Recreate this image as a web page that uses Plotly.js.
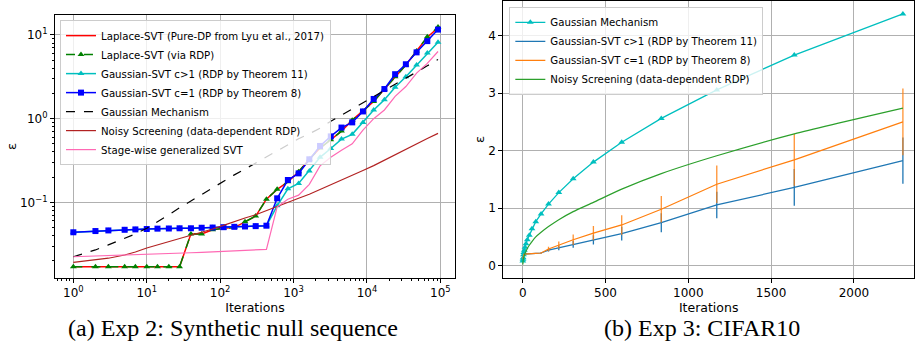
<!DOCTYPE html>
<html>
<head>
<meta charset="utf-8">
<script src="https://cdn.plot.ly/plotly-3.0.1.min.js"></script>
<style>html,body{margin:0;padding:0;background:#fff;}#chart{width:915px;height:354px;}</style>
</head>
<body>
<div id="chart"></div>
<script>
// ---------- Exp 2 (left, log-log) ----------
const iterationsA = [1,2,3,5,7,10,14,20,28,40,56,79,111,156,218,305,427,598,837,1172,1640,2296,3214,4500,6300,8820,12348,17287,24201,33882,47435,66409,92972];
const laplacePure = [0.017,0.017,0.017,0.017,0.017,0.017,0.017,0.017,0.017,0.042,0.042,0.047,0.049,0.050,0.0587,0.0686,0.109,0.143,0.176,0.232,0.327,0.445,0.56,0.71,0.96,1.23,1.6,2.26,3.16,4.37,6.43,9.4,12.2];
const laplaceRdp = [0.017,0.017,0.017,0.017,0.017,0.017,0.017,0.017,0.017,0.042,0.042,0.047,0.049,0.050,0.0587,0.0686,0.109,0.143,0.176,0.232,0.327,0.445,0.56,0.71,0.96,1.23,1.6,2.26,3.16,4.37,6.43,9.5,12.5];
const gsvtCgt1A = [0.0439,0.0454,0.0462,0.047,0.0475,0.048,0.0485,0.0487,0.049,0.049,0.0497,0.050,0.0505,0.051,0.0515,0.052,0.0526,0.091,0.145,0.168,0.237,0.345,0.44,0.57,0.65,0.90,1.27,1.68,2.38,3.17,4.37,6.1,8.2];
const gsvtC1A = [0.0439,0.0454,0.0462,0.047,0.0475,0.048,0.0485,0.0487,0.049,0.049,0.0497,0.050,0.0505,0.051,0.0515,0.052,0.0526,0.1117,0.185,0.222,0.327,0.472,0.614,0.783,0.903,1.22,1.72,2.26,3.4,4.47,6.2,8.45,11.6];
const gaussMechA = [0.0224,0.027,0.031,0.037,0.042,0.049,0.058,0.071,0.086,0.104,0.125,0.151,0.18,0.213,0.25,0.295,0.35,0.41,0.485,0.575,0.66,0.77,0.93,1.10,1.31,1.56,1.84,2.18,2.58,3.05,3.62,4.28,5.1];
const noisyScreenA = [0.0192,0.0205,0.0215,0.0235,0.0255,0.0285,0.031,0.034,0.037,0.040,0.044,0.048,0.053,0.059,0.065,0.071,0.080,0.090,0.10,0.112,0.125,0.142,0.161,0.185,0.21,0.24,0.275,0.32,0.37,0.43,0.50,0.58,0.667];
const stagewiseA = [0.0224,0.0228,0.023,0.0233,0.0235,0.0237,0.024,0.0243,0.0246,0.025,0.0253,0.0256,0.026,0.0263,0.0266,0.027,0.0274,0.0886,0.109,0.122,0.164,0.273,0.345,0.42,0.50,0.73,1.0,1.27,1.85,2.42,3.5,4.57,6.35];
const xTickValsA = [1,10,100,1000,10000,100000];
const xTickTextA = ['10<sup>0</sup>','10<sup>1</sup>','10<sup>2</sup>','10<sup>3</sup>','10<sup>4</sup>','10<sup>5</sup>'];
const yTickValsA = [0.1,1,10];
const yTickTextA = ['10<sup>\u22121</sup>','10<sup>0</sup>','10<sup>1</sup>'];

// ---------- Exp 3 (right, linear) ----------
const iterationsB = [1,2,3,5,7,10,14,20,28,40,56,79,111,156,218,305,427,598,837,1172,1640,2296];
const gaussMechB = [0.08,0.11,0.14,0.19,0.23,0.27,0.32,0.38,0.45,0.53,0.64,0.765,0.90,1.07,1.27,1.51,1.80,2.146,2.56,3.055,3.66,4.375];
const gsvtCgt1B = [0.12,0.16,0.18,0.19,0.195,0.2,0.2,0.2,0.205,0.205,0.21,0.215,0.22,0.27,0.31,0.37,0.447,0.557,0.748,1.056,1.36,1.826];
const gsvtCgt1Err = [0,0,0,0,0,0,0,0,0,0,0,0,0.01,0.025,0.04,0.06,0.08,0.12,0.165,0.23,0.32,0.40];
const gsvtC1B = [0.12,0.16,0.18,0.19,0.195,0.2,0.2,0.2,0.205,0.205,0.21,0.215,0.22,0.29,0.36,0.45,0.565,0.708,0.98,1.416,1.84,2.50];
const gsvtC1Err = [0,0,0,0,0,0,0,0,0,0,0,0,0.01,0.04,0.06,0.09,0.125,0.17,0.23,0.325,0.45,0.58];
const noisyScreenB = [0.02,0.07,0.095,0.125,0.15,0.18,0.215,0.25,0.3,0.355,0.42,0.5,0.58,0.68,0.80,0.94,1.10,1.33,1.60,1.91,2.29,2.737];
const xTickValsB = [0,500,1000,1500,2000];
const yTickValsB = [0,1,2,3,4];

const FONT = 'DejaVu Sans';
const traces = [
  {x:iterationsA, y:laplacePure, name:'Laplace-SVT (Pure-DP from Lyu et al., 2017)', mode:'lines', line:{color:'#ff0000', width:1.5}, xaxis:'x', yaxis:'y', legend:'legend'},
  {x:iterationsA, y:laplaceRdp, name:'Laplace-SVT (via RDP)', mode:'lines+markers', line:{color:'#008000', width:1.5, dash:'dash'}, marker:{symbol:'triangle-up', size:6, color:'#008000'}, xaxis:'x', yaxis:'y', legend:'legend'},
  {x:iterationsA, y:gsvtCgt1A, name:'Gaussian-SVT c>1 (RDP by Theorem 11)', mode:'lines+markers', line:{color:'#00bfbf', width:1.5}, marker:{symbol:'triangle-up', size:6, color:'#00bfbf'}, xaxis:'x', yaxis:'y', legend:'legend'},
  {x:iterationsA, y:gsvtC1A, name:'Gaussian-SVT c=1 (RDP by Theorem 8)', mode:'lines+markers', line:{color:'#0000ff', width:1.5}, marker:{symbol:'square', size:6, color:'#0000ff'}, xaxis:'x', yaxis:'y', legend:'legend'},
  {x:iterationsA, y:gaussMechA, name:'Gaussian Mechanism', mode:'lines', line:{color:'#000000', width:1.2, dash:'dash'}, xaxis:'x', yaxis:'y', legend:'legend'},
  {x:iterationsA, y:noisyScreenA, name:'Noisy Screening (data-dependent RDP)', mode:'lines', line:{color:'#b22222', width:1.2}, xaxis:'x', yaxis:'y', legend:'legend'},
  {x:iterationsA, y:stagewiseA, name:'Stage-wise generalized SVT', mode:'lines', line:{color:'#ff69b4', width:1.2}, xaxis:'x', yaxis:'y', legend:'legend'},

  {x:iterationsB, y:gaussMechB, name:'Gaussian Mechanism', mode:'lines+markers', line:{color:'#00bfbf', width:1.3}, marker:{symbol:'triangle-up', size:6, color:'#00bfbf'}, xaxis:'x2', yaxis:'y2', legend:'legend2'},
  {x:iterationsB, y:gsvtCgt1B, name:'Gaussian-SVT c>1 (RDP by Theorem 11)', mode:'lines', line:{color:'#1f77b4', width:1.2}, error_y:{type:'data', array:gsvtCgt1Err, visible:true, width:0, thickness:1.3, color:'#1f77b4'}, xaxis:'x2', yaxis:'y2', legend:'legend2'},
  {x:iterationsB, y:gsvtC1B, name:'Gaussian-SVT c=1 (RDP by Theorem 8)', mode:'lines', line:{color:'#ff7f0e', width:1.2}, error_y:{type:'data', array:gsvtC1Err, visible:true, width:0, thickness:1.3, color:'rgba(255,127,14,0.85)'}, xaxis:'x2', yaxis:'y2', legend:'legend2'},
  {x:iterationsB, y:noisyScreenB, name:'Noisy Screening (data-dependent RDP)', mode:'lines', line:{color:'#2ca02c', width:1.2, shape:'spline', smoothing:0.6}, xaxis:'x2', yaxis:'y2', legend:'legend2'}
];

const axisCommon = {
  showline:true, mirror:true, linecolor:'#000', linewidth:1,
  ticks:'outside', ticklen:4, tickcolor:'#000', tickwidth:1,
  showgrid:true, gridcolor:'#b0b0b0', gridwidth:1, zeroline:false,
  tickfont:{family:FONT, size:12, color:'#000'}
};

const legendCommon = {
  xanchor:'left', yanchor:'top', bgcolor:'rgba(255,255,255,0.8)', bordercolor:'#cccccc', borderwidth:1,
  font:{family:FONT, size:10.2, color:'#000'}, itemwidth:30, tracegroupgap:0
};

const layout = {
  width:915, height:354,
  margin:{l:55, r:1, t:1, b:76},
  paper_bgcolor:'#fff', plot_bgcolor:'#fff',
  font:{family:FONT, size:12, color:'#000'},
  showlegend:true,
  xaxis:Object.assign({}, axisCommon, {
    domain:[0,0.4657], anchor:'y', type:'log', range:[-0.25,5.2],
    tickmode:'array', tickvals:xTickValsA, ticktext:xTickTextA,
    minor:{ticks:'outside', ticklen:2, tickcolor:'#000', dtick:'D1', showgrid:false},
    title:{text:'Iterations', font:{family:FONT, size:12.5}, standoff:0}
  }),
  yaxis:Object.assign({}, axisCommon, {
    domain:[0,0.9495], anchor:'x', type:'log', range:[-1.904,1.239],
    tickmode:'array', tickvals:yTickValsA, ticktext:yTickTextA,
    minor:{ticks:'outside', ticklen:2, tickcolor:'#000', dtick:'D1', showgrid:false},
    title:{text:'\u03b5', font:{family:FONT, size:13}, standoff:0}
  }),
  xaxis2:Object.assign({}, axisCommon, {
    domain:[0.5219,1], anchor:'y2', range:[-117,2363],
    tickmode:'array', tickvals:xTickValsB,
    title:{text:'Iterations', font:{family:FONT, size:12.5}, standoff:0}
  }),
  yaxis2:Object.assign({}, axisCommon, {
    domain:[0,1], anchor:'x2', range:[-0.214,4.6],
    tickmode:'array', tickvals:yTickValsB,
    title:{text:'\u03b5', font:{family:FONT, size:13}, standoff:0}
  }),
  legend:Object.assign({}, legendCommon, {x:0.0058, y:0.931}),
  legend2:Object.assign({}, legendCommon, {x:0.5289, y:0.979}),
  annotations:[
    {text:'(a) Exp 2: Synthetic null sequence', xref:'paper', yref:'paper', x:0.2072, y:-0.1805, xanchor:'center', yanchor:'middle', showarrow:false, font:{family:'Liberation Serif', size:24, color:'#000'}},
    {text:'(b) Exp 3: CIFAR10', xref:'paper', yref:'paper', x:0.7532, y:-0.1805, xanchor:'center', yanchor:'middle', showarrow:false, font:{family:'Liberation Serif', size:24, color:'#000'}}
  ]
};

Plotly.newPlot('chart', traces, layout, {displayModeBar:false, staticPlot:true});
</script>
</body>
</html>
